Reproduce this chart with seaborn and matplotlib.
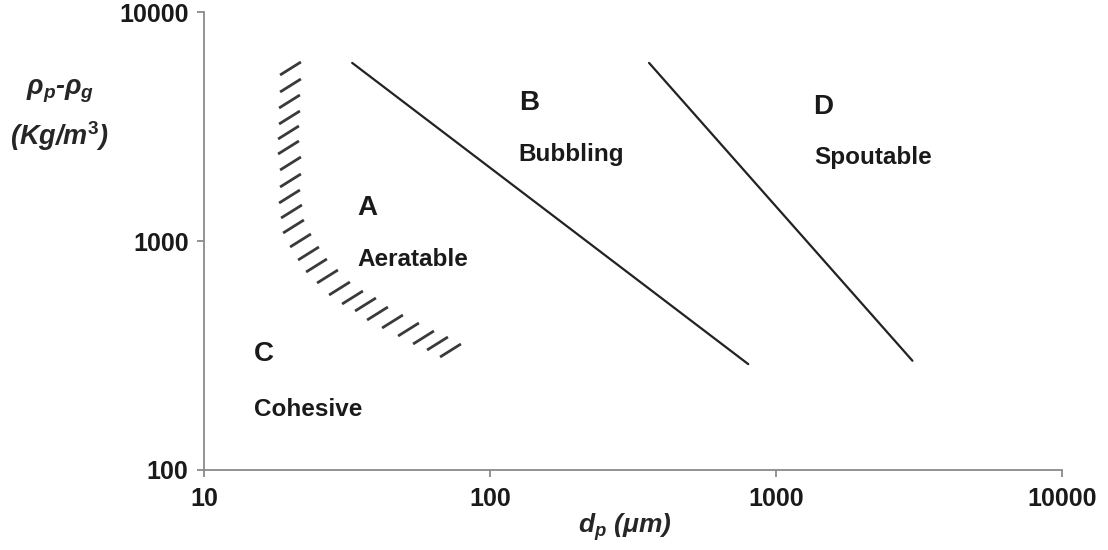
# -*- coding: utf-8 -*-

#Data processing
import numpy as np
import pandas as pd

#Visualization
import matplotlib
matplotlib.use('Agg')
import matplotlib.pyplot as plt
import seaborn as sns


#Geldart boundaries, dp in um and rho_p - rho_g in kg/m3
ab_dp = [33, 800]
ab_rho = [6000, 290]
bd_dp = [360, 3000]
bd_rho = [6000, 300]

#hatched C/A boundary, one dash per point
ca_dp = [20.0, 20.0, 19.8, 19.8, 19.7, 19.7, 20.0, 20.0, 19.8, 20.2, 20.5, 21.7,
         23.1, 24.6, 26.9, 29.6, 32.9, 36.6, 40.3, 45.4, 51.7, 58.3, 65.3, 72.5]
ca_rho = [5700, 4800, 4090, 3480, 2990, 2570, 2190, 1850, 1570, 1350, 1160, 1010,
          886, 786, 703, 623, 569, 531, 485, 447, 413, 381, 359, 334]

#group letters and names
groups = ['A', 'B', 'C', 'D']
names = ['Aeratable', 'Bubbling', 'Cohesive', 'Spoutable']

x_ticks = [10, 100, 1000, 10000]
y_ticks = [100, 1000, 10000]


#Plot parameters
sns.set_style('ticks')
plt.rcParams['font.family'] = ['Liberation Sans', 'DejaVu Sans']
plt.rcParams['font.weight'] = 'bold'
plt.rcParams['axes.labelweight'] = 'bold'
plt.rcParams['mathtext.fontset'] = 'custom'
plt.rcParams['mathtext.rm'] = 'Liberation Sans:bold'
plt.rcParams['mathtext.it'] = 'Liberation Sans:italic:bold'
plt.rcParams['mathtext.bf'] = 'Liberation Sans:bold'

fig = plt.figure(figsize=(11.08, 5.5), dpi=100)
ax = fig.add_axes([0.184, 0.1455, 0.7745, 0.8325])

line_kw = dict(color='#222222', linewidth=1.6, ax=ax)
sns.lineplot(x=ab_dp, y=ab_rho, **line_kw)
sns.lineplot(x=bd_dp, y=bd_rho, **line_kw)

#short slanted dashes for the hatched boundary
dash = [(-1, -0.625), (1, 0.625)]
ax.plot(ca_dp, ca_rho, linestyle='', marker=dash, markersize=15,
        markeredgewidth=2.0, markeredgecolor='#3a3a3a')

ax.set_xscale('log')
ax.set_yscale('log')
ax.set_xlim(10, 10000)
ax.set_ylim(100, 10000)
ax.set_xticks(x_ticks)
ax.set_xticklabels([str(t) for t in x_ticks])
ax.set_yticks(y_ticks)
ax.set_yticklabels([str(t) for t in y_ticks])
ax.minorticks_off()

for s in ['top', 'right']:
    ax.spines[s].set_visible(False)
for s in ['left', 'bottom']:
    ax.spines[s].set_color('#8a8a8a')
    ax.spines[s].set_linewidth(1.3)
ax.tick_params(axis='both', direction='out', length=5, width=1.3,
               color='#8a8a8a', labelsize=18, labelcolor='#1a1a1a')
ax.tick_params(axis='x', pad=7)
ax.tick_params(axis='y', pad=6)

#region labels
txt = dict(fontsize=17.5, color='#1a1a1a', ha='left', va='center')
big = dict(fontsize=20, color='#1a1a1a', ha='left', va='center')
ax.text(34.3, 1394, groups[0], **big)
ax.text(34.5, 834, names[0], **txt)
ax.text(127, 4005, groups[1], **big)
ax.text(126, 2399, names[1], **txt)
ax.text(15, 321, groups[2], **big)
ax.text(15, 184.5, names[2], **txt)
ax.text(1346, 3846, groups[3], **big)
ax.text(1362, 2328, names[3], **txt)

ax.set_xlabel(r'$d_p$ ($\mu m$)', fontsize=19, style='italic')
ax.xaxis.set_label_coords(0.49, -0.09)
ax.set_ylabel('$\\rho_p$-$\\rho_g$\n(Kg/m$^3$)', fontsize=19.5, style='italic',
              rotation=0, linespacing=1.55, ha='center', va='center')
ax.yaxis.set_label_coords(-0.168, 0.774)

plt.savefig('out.png', dpi=100)
